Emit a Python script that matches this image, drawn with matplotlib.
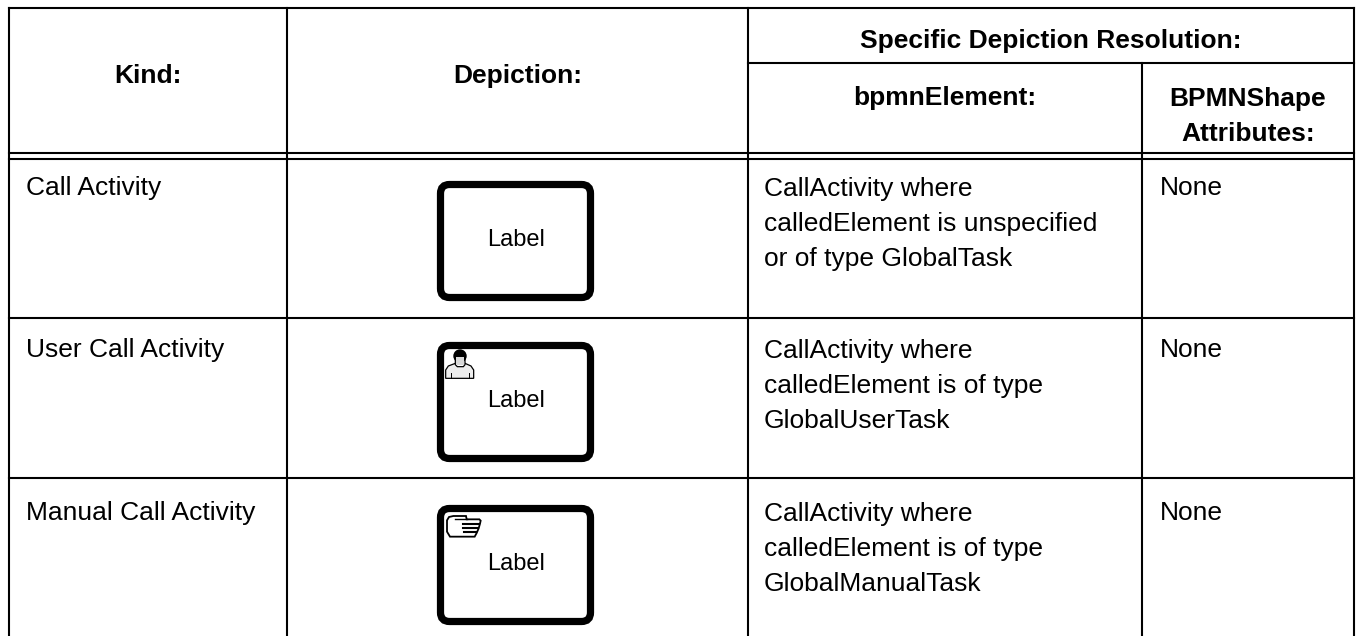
import matplotlib
matplotlib.use("Agg")
import matplotlib.pyplot as plt
from matplotlib.patches import FancyBboxPatch, Circle, Polygon

plt.rcParams['font.family'] = ['Liberation Sans', 'DejaVu Sans']

kinds = ["Call Activity", "User Call Activity", "Manual Call Activity"]
elements = ["CallActivity where\ncalledElement is unspecified\nor of type GlobalTask",
            "CallActivity where\ncalledElement is of type\nGlobalUserTask",
            "CallActivity where\ncalledElement is of type\nGlobalManualTask"]
attributes = ["None", "None", "None"]
shape_label = "Label"
head_kind = "Kind:"
head_depiction = "Depiction:"
head_resolution = "Specific Depiction Resolution:"
head_element = "bpmnElement:"
head_attr = "BPMNShape\nAttributes:"

xs = [9, 287, 748, 1142, 1354]
row_lines = [159, 318, 478]
baselines = [195, 357, 520]
box_tops = [181, 342, 505]

fig = plt.figure(figsize=(13.57, 6.36), dpi=100)
ax = fig.add_axes([0, 0, 1, 1])
ax.set_xlim(0, 1357)
ax.set_ylim(636, 0)
ax.axis('off')

LW = 1.5
def line(x0, y0, x1, y1, lw=LW, c='black', cap='projecting', z=2):
    ax.plot([x0, x1], [y0, y1], color=c, lw=lw, solid_capstyle=cap, zorder=z)

line(xs[0], 8, xs[-1], 8)
line(xs[2], 63, xs[-1], 63)
line(xs[0], 153, xs[-1], 153)
for y in row_lines:
    line(xs[0], y, xs[-1], y)
for x in xs:
    line(x, 63 if x == xs[3] else 8, x, 637)

FS = 19
bold = dict(fontsize=FS, fontweight='bold', color='black', ha='center', va='baseline')
ax.text((xs[0]+xs[1])/2, 83, head_kind, **bold)
ax.text((xs[1]+xs[2])/2, 83, head_depiction, **bold)
ax.text((xs[2]+xs[4])/2, 48, head_resolution, **bold)
ax.text((xs[2]+xs[3])/2, 105, head_element, **bold)
ax.text((xs[3]+xs[4])/2, 141, head_attr, linespacing=1.6, **bold)

for i in range(3):
    b = baselines[i]
    ax.text(26, b, kinds[i], fontsize=FS, va='baseline', ha='left')
    ax.text(764, b+71, elements[i], fontsize=FS, va='baseline', ha='left', linespacing=1.59)
    ax.text(1160, b, attributes[i], fontsize=FS, va='baseline', ha='left')
    t = box_tops[i]
    ax.add_patch(FancyBboxPatch((440.5, t+3.5), 150, 113, boxstyle="round,pad=0,rounding_size=9",
                                fc='white', ec='black', lw=5.2))
    ax.text(516, t+59, shape_label, fontsize=17, ha='center', va='center')

def z(px, py, bx, by):
    return (bx + px/3, by + py/3)

# user icon
U = (420, 320)
body = [z(77,175,*U), z(77,150,*U), z(85,138,*U), z(106,130,*U), z(135,130,*U), z(153,138,*U),
        z(161,150,*U), z(161,175,*U)]
ax.add_patch(Polygon(body, closed=True, fc='#eeeeee', ec='black', lw=0.9, zorder=4))
ax.add_patch(Polygon([z(106,112,*U), z(106,134,*U), z(112,140,*U), z(130,140,*U), z(135,134,*U), z(135,112,*U)],
                     closed=True, fc='white', ec='black', lw=0.9, zorder=5))
ax.add_patch(Circle(z(120,108,*U), 6.7, fc='black', ec='none', zorder=5))
ax.add_patch(Polygon([z(108,112,*U), z(108,136,*U), z(133,136,*U), z(133,112,*U)],
                     closed=True, fc='#d8d8d8', ec='none', zorder=6))
line(*z(92,160,*U), *z(92,175,*U), lw=0.7, z=6)
line(*z(146,160,*U), *z(146,175,*U), lw=0.7, z=6)

# hand icon
H = (440, 505)
outline = [z(40,33,*H), z(27,36,*H), z(21,46,*H), z(21,80,*H), z(30,95,*H),
           z(104,95,*H), z(110,84,*H), z(116,70,*H), z(120,56,*H), z(122,47,*H),
           z(118,43,*H), z(80,43,*H), z(78,33,*H)]
ax.add_patch(Polygon(outline, closed=True, fc='white', ec='black', lw=1.3, zorder=4))
line(*z(46,43,*H), *z(80,43,*H), lw=1.0, z=5)
line(*z(70,56,*H), *z(118,56,*H), lw=1.5, z=5)
line(*z(70,69,*H), *z(113,69,*H), lw=1.5, z=5)
line(*z(72,82,*H), *z(108,82,*H), lw=1.5, z=5)

fig.savefig("out.png", dpi=100, facecolor='white')
